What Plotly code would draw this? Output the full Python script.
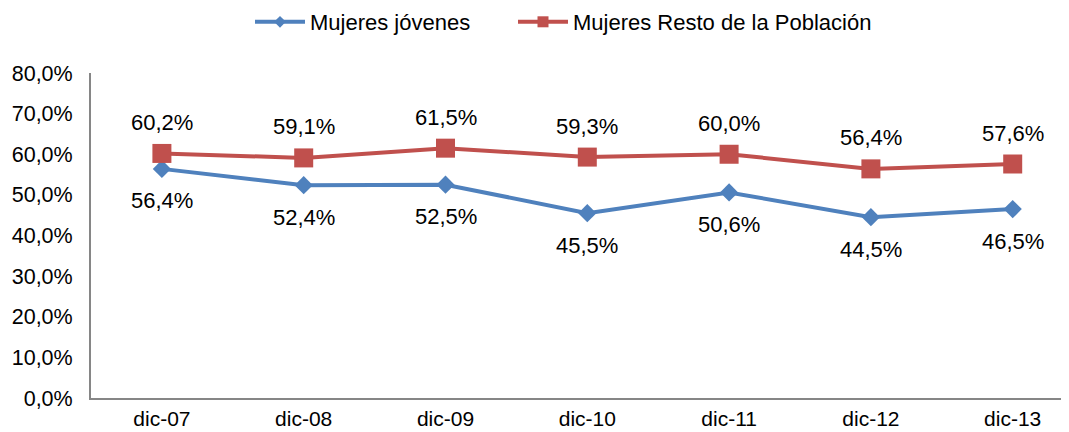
import plotly.graph_objects as go

categories = ["dic-07", "dic-08", "dic-09", "dic-10", "dic-11", "dic-12", "dic-13"]
jovenes = [56.4, 52.4, 52.5, 45.5, 50.6, 44.5, 46.5]
resto = [60.2, 59.1, 61.5, 59.3, 60.0, 56.4, 57.6]
yticks = [0, 10, 20, 30, 40, 50, 60, 70, 80]
series_names = ["Mujeres jóvenes", "Mujeres Resto de la Población"]

def fmt(v):
    return f"{v:.1f}".replace(".", ",") + "%"

BLUE = "#4F81BD"
RED = "#C0504D"
FONT = "Liberation Sans, Arial, sans-serif"

# page body has an 8px default margin: figure is 8px smaller each way
W, H = 1061, 424
L, T, B = 83, 65, 34
plot_w = W - L
plot_h = H - T - B
step = 141.8  # px per category

x = list(range(len(categories)))
fig = go.Figure()
fig.add_trace(go.Scatter(x=x, y=jovenes, mode="lines+markers", name=series_names[0],
                         showlegend=False,
                         line=dict(color=BLUE, width=4),
                         marker=dict(symbol="diamond", size=14, color=BLUE)))
fig.add_trace(go.Scatter(x=x, y=resto, mode="lines+markers", name=series_names[1],
                         showlegend=False,
                         line=dict(color=RED, width=4),
                         marker=dict(symbol="square", size=19, color=RED)))
# legend-only entries with smaller markers
fig.add_trace(go.Scatter(x=[None], y=[None], mode="lines+markers", name=series_names[0],
                         legend="legend",
                         line=dict(color=BLUE, width=4),
                         marker=dict(symbol="diamond", size=9, color=BLUE)))
fig.add_trace(go.Scatter(x=[None], y=[None], mode="lines+markers", name=series_names[1],
                         legend="legend2",
                         line=dict(color=RED, width=4),
                         marker=dict(symbol="square", size=11, color=RED)))

ann = []
for i, v in enumerate(resto):
    ann.append(dict(x=x[i], y=v, text=fmt(v), showarrow=False, yshift=31,
                    font=dict(size=22, color="#000000", family=FONT)))
for i, v in enumerate(jovenes):
    ann.append(dict(x=x[i], y=v, text=fmt(v), showarrow=False, yshift=-32,
                    font=dict(size=22, color="#000000", family=FONT)))

leg_common = dict(orientation="h", xanchor="left", y=1 + (T - 14) / plot_h, yanchor="middle",
                  font=dict(size=22, family=FONT), itemwidth=50, bgcolor="rgba(0,0,0,0)")

fig.update_layout(
    width=W, height=H,
    margin=dict(l=L, r=0, t=T, b=B, autoexpand=False),
    paper_bgcolor="white", plot_bgcolor="white",
    font=dict(family=FONT, size=21, color="#000000"),
    showlegend=True,
    legend=dict(x=(242 - L) / plot_w, **leg_common),
    legend2=dict(x=(505 - L) / plot_w, **leg_common),
    annotations=ann,
    xaxis=dict(tickmode="array", tickvals=x, ticktext=categories,
               range=[-0.5, plot_w / step - 0.5], showgrid=False, zeroline=False,
               showline=True, linecolor="#868686", linewidth=2, ticks="",
               automargin=False, ticklabelstandoff=1,
               tickfont=dict(size=21, family=FONT), fixedrange=True),
    yaxis=dict(range=[0, 80], tickmode="array", tickvals=yticks,
               ticktext=[fmt(v) for v in yticks], showgrid=False, zeroline=False,
               showline=True, linecolor="#868686", linewidth=2, ticks="",
               automargin=False, ticklabelstandoff=12,
               tickfont=dict(size=21.5, family=FONT), fixedrange=True),
)
fig.write_html("out.html")
